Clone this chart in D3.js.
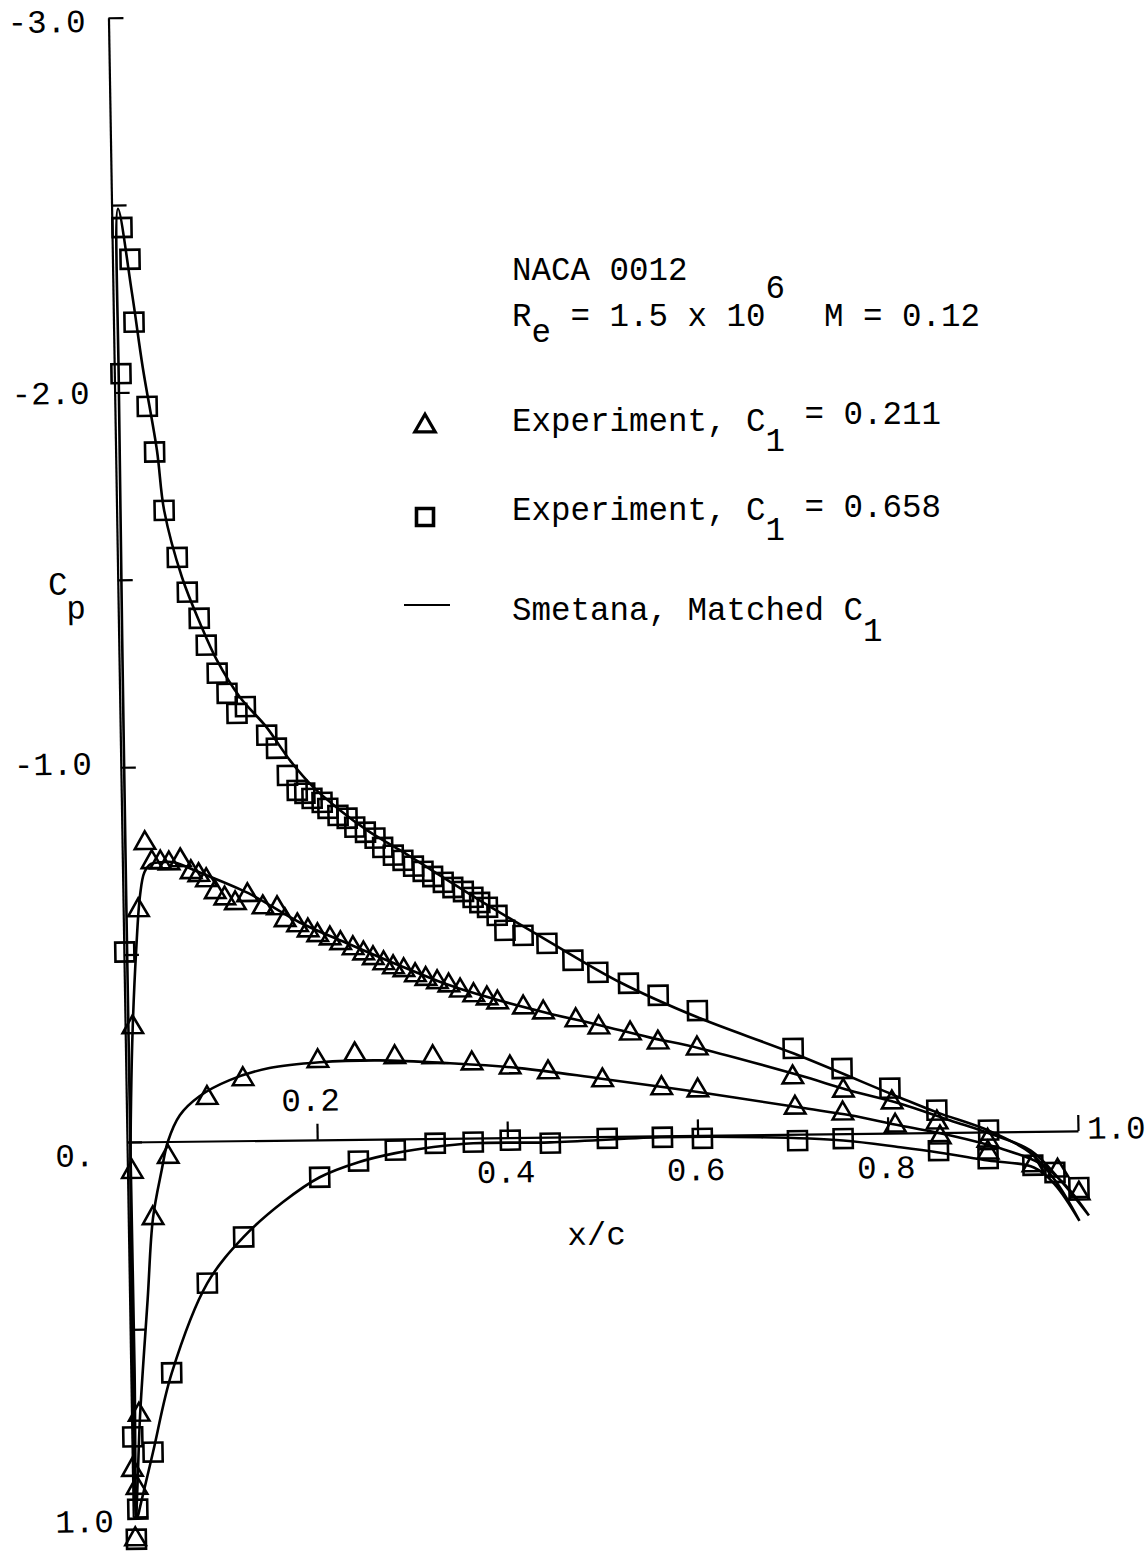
<!DOCTYPE html>
<html>
<head>
<meta charset="utf-8">
<script src="https://cdn.jsdelivr.net/npm/d3@7"></script>
<style>
  html, body { margin: 0; padding: 0; background: #fff; }
  svg { display: block; }
  text { font-family: "Liberation Mono", "DejaVu Sans Mono", monospace; font-size: 32.5px; fill: #000; white-space: pre; }
</style>
</head>
<body>
<svg id="chart" width="1148" height="1553"></svg>
<script>
// ---------------------------------------------------------------
// NACA 0012 surface pressure distributions, Re = 1.5e6, M = 0.12
// Each point is [x/c, Cp]
// ---------------------------------------------------------------

// Experiment, Cl = 0.211 (triangles)
const triUpper = [
  [0.005, 0.08], [0.008, -0.306], [0.016, -0.618], [0.024, -0.797], [0.031, -0.746],
  [0.040, -0.745], [0.049, -0.742], [0.061, -0.750], [0.072, -0.718], [0.080, -0.710],
  [0.088, -0.696], [0.097, -0.664], [0.107, -0.647], [0.118, -0.634], [0.131, -0.655],
  [0.147, -0.622], [0.162, -0.619], [0.170, -0.587], [0.183, -0.573], [0.194, -0.559],
  [0.204, -0.546], [0.217, -0.537], [0.228, -0.524], [0.241, -0.510], [0.252, -0.496],
  [0.262, -0.483], [0.273, -0.469], [0.283, -0.458], [0.294, -0.450], [0.306, -0.436],
  [0.317, -0.426], [0.329, -0.417], [0.341, -0.408], [0.353, -0.394], [0.367, -0.381],
  [0.381, -0.372], [0.392, -0.361], [0.419, -0.347], [0.440, -0.333], [0.474, -0.311],
  [0.498, -0.291], [0.531, -0.274], [0.560, -0.249], [0.601, -0.232], [0.701, -0.152],
  [0.754, -0.115], [0.805, -0.082], [0.852, -0.027], [0.905, 0.023], [0.952, 0.090],
  [1.000, 0.167]
];
const triLower = [
  [0.000, 0.875], [0.002, 1.06], [0.0045, 0.923], [0.008, 0.728], [0.026, 0.204],
  [0.043, 0.041], [0.085, -0.115], [0.123, -0.164], [0.202, -0.210], [0.241, -0.227],
  [0.283, -0.218], [0.323, -0.217], [0.364, -0.199], [0.404, -0.187], [0.444, -0.173],
  [0.501, -0.150], [0.563, -0.127], [0.601, -0.120], [0.703, -0.071], [0.753, -0.054],
  [0.808, -0.020], [0.855, 0.013], [0.905, 0.055], [0.978, 0.105]
];

// Experiment, Cl = 0.658 (squares)
const sqUpper = [
  [0.001, -0.507], [0.007, -2.05], [0.0106, -2.44], [0.0185, -2.355], [0.0216, -2.187],
  [0.034, -1.962], [0.041, -1.84], [0.050, -1.684], [0.063, -1.558], [0.073, -1.465],
  [0.085, -1.395], [0.092, -1.323], [0.103, -1.248], [0.113, -1.194], [0.123, -1.140],
  [0.132, -1.158], [0.154, -1.081], [0.164, -1.046], [0.175, -0.973], [0.185, -0.933],
  [0.193, -0.925], [0.2005, -0.911], [0.211, -0.900], [0.217, -0.884], [0.2275, -0.865],
  [0.237, -0.857], [0.245, -0.833], [0.256, -0.819], [0.266, -0.803], [0.274, -0.778],
  [0.285, -0.757], [0.295, -0.743], [0.306, -0.727], [0.316, -0.713], [0.326, -0.699],
  [0.337, -0.683], [0.347, -0.669], [0.358, -0.658], [0.368, -0.642], [0.375, -0.628],
  [0.383, -0.615], [0.393, -0.593], [0.401, -0.553], [0.420, -0.539], [0.445, -0.517],
  [0.472, -0.471], [0.498, -0.438], [0.530, -0.408], [0.561, -0.375], [0.602, -0.333],
  [0.702, -0.229], [0.753, -0.174], [0.803, -0.120], [0.852, -0.060], [0.906, -0.005],
  [0.952, 0.090], [1.000, 0.151]
];
const sqLower = [
  [0.001, 0.787], [0.003, 1.06], [0.005, 0.98], [0.022, 0.828], [0.043, 0.617],
  [0.082, 0.379], [0.121, 0.257], [0.202, 0.100], [0.243, 0.058], [0.282, 0.030],
  [0.324, 0.013], [0.364, 0.011], [0.403, 0.007], [0.445, 0.016], [0.505, 0.005],
  [0.563, 0.004], [0.605, 0.008], [0.705, 0.017], [0.753, 0.013], [0.853, 0.048],
  [0.905, 0.071], [0.975, 0.110]
];

// Smetana theory, matched Cl: lower surface runs trailing edge -> leading edge,
// upper surface runs leading edge -> trailing edge
const smetanaTriLower = [
  [1.010, 0.226], [0.986, 0.145], [0.960, 0.086], [0.918, 0.044], [0.866, 0.008],
  [0.813, -0.020], [0.761, -0.049], [0.708, -0.071], [0.603, -0.115], [0.498, -0.155],
  [0.414, -0.185], [0.341, -0.200], [0.267, -0.210], [0.204, -0.207], [0.151, -0.193],
  [0.109, -0.162], [0.077, -0.120], [0.056, -0.070], [0.043, 0.000], [0.036, 0.076],
  [0.026, 0.204], [0.019, 0.420], [0.009, 0.730], [0.005, 0.920], [0.003, 1.000]
];
const smetanaTriUpper = [
  [0.002, 0.850], [0.003, 0.100], [0.005, -0.112], [0.008, -0.306], [0.013, -0.512],
  [0.018, -0.658], [0.023, -0.719], [0.030, -0.741], [0.040, -0.745], [0.054, -0.745],
  [0.080, -0.718], [0.132, -0.660], [0.185, -0.581], [0.237, -0.521], [0.289, -0.463],
  [0.342, -0.408], [0.394, -0.366], [0.446, -0.330], [0.499, -0.297], [0.551, -0.263],
  [0.604, -0.232], [0.708, -0.157], [0.761, -0.115], [0.813, -0.079], [0.866, -0.032],
  [0.907, 0.004], [0.950, 0.051], [0.981, 0.132], [1.010, 0.226]
];
const smetanaSqLower = [
  [1.000, 0.240], [0.975, 0.143], [0.953, 0.096], [0.905, 0.076], [0.853, 0.053],
  [0.813, 0.038], [0.753, 0.018], [0.666, 0.007], [0.561, 0.004], [0.445, 0.014],
  [0.364, 0.014], [0.322, 0.023], [0.282, 0.038], [0.243, 0.061], [0.202, 0.100],
  [0.163, 0.165], [0.121, 0.257], [0.082, 0.379], [0.043, 0.618], [0.022, 0.828],
  [0.0074, 0.974], [0.0045, 1.000]
];
const smetanaSqUpper = [
  [0.004, 0.600], [0.0035, 0.000], [0.0035, -1.000], [0.0045, -2.000], [0.0067, -2.490],
  [0.020, -2.264], [0.030, -2.066], [0.0435, -1.844], [0.050, -1.684], [0.0676, -1.505],
  [0.0858, -1.382], [0.103, -1.282], [0.1265, -1.183], [0.154, -1.102], [0.178, -1.013],
  [0.202, -0.941], [0.230, -0.878], [0.258, -0.824], [0.292, -0.770], [0.375, -0.634],
  [0.445, -0.525], [0.521, -0.411], [0.602, -0.315], [0.702, -0.216], [0.813, -0.095],
  [0.852, -0.054], [0.906, -0.004], [0.949, 0.056], [0.975, 0.131], [1.000, 0.240]
];

// Axis ticks and labels
const yTicks = [-3, -2.5, -2, -1.5, -1, -0.5, 0, 0.5, 1];
const yTickLabels = [
  { v: -3, t: "-3.0" }, { v: -2, t: "-2.0" }, { v: -1, t: "-1.0" }, { v: 0, t: "0." }, { v: 1, t: "1.0" }
];
const xTicks = [0.2, 0.4, 0.6, 0.8, 1.0];
const xTickLabelsAbove = [{ v: 0.2, t: "0.2" }];
const xTickLabelsBelow = [{ v: 0.4, t: "0.4" }, { v: 0.6, t: "0.6" }, { v: 0.8, t: "0.8" }];

// ---------------------------------------------------------------
const svg = d3.select("#chart");
svg.append("rect").attr("width", 1148).attr("height", 1553).attr("fill", "#fff");

const x = d3.scaleLinear().domain([0, 1]).range([127, 1078]);
const y = d3.scaleLinear().domain([-3, 1]).range([17.75, 1516.75]);

const ox = x(0), oy = y(0);
// the plotted frame sits slightly skewed on the sheet
const plot = svg.append("g")
  .attr("transform", `translate(${ox},${oy}) matrix(1,-0.0116,0.0165,1,0,0) translate(${-ox},${-oy})`);

// axes
const yAxis = d3.axisRight(y).tickValues(yTicks).tickSize(15).tickSizeOuter(0).tickFormat("");
plot.append("g").attr("transform", `translate(${ox},0)`).call(yAxis)
  .call(g => g.selectAll("path, line").attr("stroke", "#000").attr("stroke-width", 2.2));

const xAxis = d3.axisTop(x).tickValues(xTicks).tickSize(16).tickSizeOuter(0).tickFormat("");
plot.append("g").attr("transform", `translate(0,${oy})`).call(xAxis)
  .call(g => g.selectAll("path, line").attr("stroke", "#000").attr("stroke-width", 2.2));

// tick labels
const yLabelStart = { "-3": -101, "-2": -103, "-1": -107, "0": -72, "1": -78 };
const yLabelDrop = { "-3": 14, "-2": 11, "-1": 7, "0": 24, "1": 15 };
plot.selectAll("text.ylab").data(yTickLabels).join("text")
  .attr("class", "ylab")
  .attr("x", d => ox + yLabelStart[d.v])
  .attr("y", d => y(d.v) + yLabelDrop[d.v])
  .text(d => d.t);

plot.selectAll("text.xlabA").data(xTickLabelsAbove).join("text")
  .attr("class", "xlabA").attr("text-anchor", "middle")
  .attr("x", d => x(d.v) - 6).attr("y", oy - 29)
  .text(d => d.t);
plot.selectAll("text.xlabB").data(xTickLabelsBelow).join("text")
  .attr("class", "xlabB").attr("text-anchor", "middle")
  .attr("x", d => x(d.v) - 2).attr("y", oy + 45)
  .text(d => d.t);
plot.append("text").attr("x", x(1) + 9).attr("y", oy + 8).text("1.0");

// axis titles
plot.append("text").attr("text-anchor", "middle").attr("x", x(0.492)).attr("y", oy + 108).text("x/c");
plot.append("text").attr("text-anchor", "middle").attr("x", 67).attr("y", 594).text("C");
plot.append("text").attr("text-anchor", "middle").attr("x", 85).attr("y", 618).text("p");

// Smetana curves
const line = d3.line()
  .x(d => x(d[0])).y(d => y(d[1]))
  .curve(d3.curveCatmullRom.alpha(0.5));
[smetanaTriLower.concat(smetanaTriUpper), smetanaSqLower.concat(smetanaSqUpper)].forEach(pts => {
  plot.append("path").datum(pts)
    .attr("d", line)
    .attr("fill", "none").attr("stroke", "#000")
    .attr("stroke-width", 2.6).attr("stroke-linejoin", "round");
});

// experimental symbols
const squarePath = d3.symbol().type(d3.symbolSquare).size(19 * 19)();
const trianglePath = d3.symbol().type(d3.symbolTriangle).size(180)();

function drawMarks(data, path) {
  plot.append("g").selectAll("path").data(data).join("path")
    .attr("d", path)
    .attr("transform", d => `translate(${x(d[0])},${y(d[1])})`)
    .attr("fill", "none").attr("stroke", "#000").attr("stroke-width", 2.6);
}
drawMarks(triUpper, trianglePath);
drawMarks(triLower, trianglePath);
drawMarks(sqUpper, squarePath);
drawMarks(sqLower, squarePath);

// ---------------------------------------------------------------
// Legend block (typewriter-set, one character cell = ADV px)
const LX = 512, ADV = 19.5;
const leg = svg.append("g");
function cell(str, col, base) {
  leg.append("text").attr("x", LX + col * ADV).attr("y", base).text(str);
}
cell("NACA 0012", 0, 280);
cell("R", 0, 326);
cell("e", 1, 342);
cell("= 1.5 x 10", 3, 326);
cell("6", 13, 298);
cell("M = 0.12", 16, 326);

cell("Experiment, C", 0, 431);
cell("1", 13, 451);
cell("= 0.211", 15, 424);

cell("Experiment, C", 0, 520);
cell("1", 13, 540);
cell("= 0.658", 15, 517);

cell("Smetana, Matched C", 0, 620);
cell("1", 18, 641);

leg.append("path").attr("d", trianglePath)
  .attr("transform", "translate(425,426)")
  .attr("fill", "none").attr("stroke", "#000").attr("stroke-width", 3.2);
leg.append("path").attr("d", d3.symbol().type(d3.symbolSquare).size(17 * 17)())
  .attr("transform", "translate(425,517)")
  .attr("fill", "none").attr("stroke", "#000").attr("stroke-width", 3.6);
leg.append("line").attr("x1", 404).attr("x2", 450).attr("y1", 605).attr("y2", 605)
  .attr("stroke", "#000").attr("stroke-width", 2.2);
</script>
</body>
</html>
